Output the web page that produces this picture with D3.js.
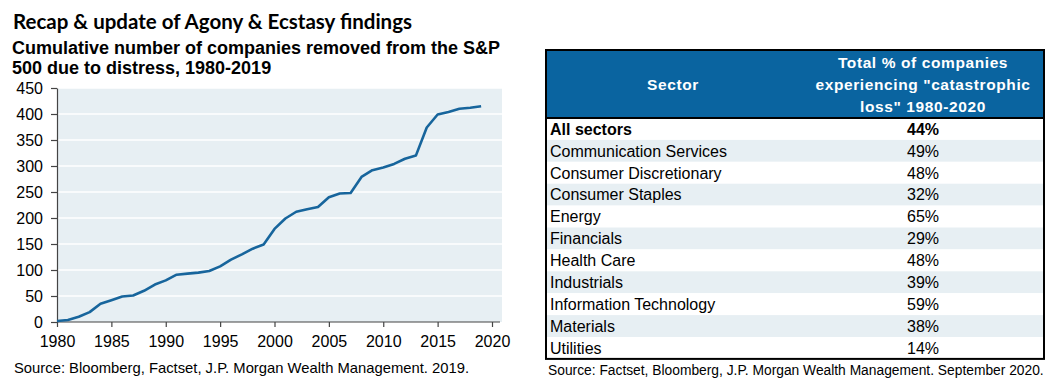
<!DOCTYPE html>
<html>
<head>
<meta charset="utf-8">
<script src="https://cdn.jsdelivr.net/npm/d3@7"></script>
<style>
  body { margin: 0; background: #fff; }
  svg { display: block; }
  text { font-family: "Liberation Sans", Arial, sans-serif; fill: #000; }
</style>
</head>
<body>
<script>
var years = [1980,1981,1982,1983,1984,1985,1986,1987,1988,1989,1990,1991,1992,1993,1994,1995,1996,1997,1998,1999,
             2000,2001,2002,2003,2004,2005,2006,2007,2008,2009,2010,2011,2012,2013,2014,2015,2016,2017,2018,2019];
var removed = [2,4,10,19,35,42,49,51,60,72,80,91,93,95,98,107,120,130,141,149,
               179,199,212,217,221,240,247,248,279,292,297,304,314,320,374,399,404,410,412,415];
var yTicks = [0,50,100,150,200,250,300,350,400,450];
var xTicks = [1980,1985,1990,1995,2000,2005,2010,2015,2020];

var sectors = ["All sectors","Communication Services","Consumer Discretionary","Consumer Staples","Energy",
               "Financials","Health Care","Industrials","Information Technology","Materials","Utilities"];
var lossPct = [44,49,48,32,65,29,48,39,59,38,14];
var headerLines = ["Total % of companies", "experiencing \"catastrophic", "loss\" 1980-2020"];

var width = 1057, height = 390;
var svg = d3.select("body").append("svg").attr("width", width).attr("height", height);

// titles
svg.append("text").attr("x", 13).attr("y", 29)
   .style("font-family", "Lato, Carlito, sans-serif").style("font-weight", "bold").style("font-size", "20.5px")
   .text("Recap & update of Agony & Ecstasy findings");
svg.append("text").attr("x", 12).attr("y", 54).style("font-weight", "bold").style("font-size", "18px")
   .text("Cumulative number of companies removed from the S&P");
svg.append("text").attr("x", 12).attr("y", 74).style("font-weight", "bold").style("font-size", "18px")
   .text("500 due to distress, 1980-2019");

// line chart
var x = d3.scaleLinear().domain([1980, 2020]).range([57, 492]);
var y = d3.scaleLinear().domain([0, 450]).range([322, 88]);

svg.append("rect").attr("x", 57).attr("y", y(450)).attr("width", 445).attr("height", y(0) - y(450))
   .attr("fill", "#e7eff3");

svg.selectAll(".grid").data(yTicks.slice(1)).enter().append("line")
   .attr("class", "grid")
   .attr("x1", 57).attr("x2", 502)
   .attr("y1", function(d) { return y(d); }).attr("y2", function(d) { return y(d); })
   .attr("stroke", "#fff").attr("stroke-width", 1.5);

var yAxis = svg.append("g").attr("transform", "translate(57,0)")
   .call(d3.axisLeft(y).tickValues(yTicks).tickSize(6).tickSizeOuter(0));
var xAxis = svg.append("g").attr("transform", "translate(0," + y(0) + ")")
   .call(d3.axisBottom(x).tickValues(xTicks).tickFormat(d3.format("d")).tickSize(5).tickSizeOuter(0));
xAxis.select(".domain").attr("d", "M57,0H500");

[yAxis, xAxis].forEach(function(a) {
  a.selectAll("path, line").attr("stroke", "#444").attr("stroke-width", 1.2);
  a.selectAll("text").style("font-family", "Liberation Sans, Arial, sans-serif")
   .style("font-size", "16px").attr("fill", "#111");
});
yAxis.selectAll("text").attr("x", -14).attr("dy", "0.36em");
xAxis.selectAll("text").attr("y", 12).attr("dy", "0.8em");

var line = d3.line()
  .x(function(d, i) { return x(years[i]); })
  .y(function(d) { return y(d); });

svg.append("path").datum(removed)
   .attr("d", line).attr("fill", "none")
   .attr("stroke", "#17659c").attr("stroke-width", 2.6).attr("stroke-linejoin", "round");

svg.append("text").attr("x", 14).attr("y", 373).style("font-size", "14.8px").attr("fill", "#111")
   .text("Source: Bloomberg, Factset, J.P. Morgan Wealth Management. 2019.");

// table
var tx0 = 546, tx1 = 1044, ty0 = 50, hy1 = 118, rowH = 21.9;
var col2 = 923;

svg.append("rect").attr("x", tx0).attr("y", ty0).attr("width", tx1 - tx0).attr("height", hy1 - ty0)
   .attr("fill", "#0a64a0");

var rows = svg.selectAll(".row").data(sectors).enter().append("g")
   .attr("class", "row")
   .attr("transform", function(d, i) { return "translate(0," + (hy1 + i * rowH) + ")"; });

rows.append("rect").attr("x", tx0).attr("width", tx1 - tx0).attr("height", rowH)
   .attr("fill", function(d, i) { return i % 2 === 1 ? "#e7eff3" : "#fff"; });

rows.append("text").attr("x", 550).attr("y", rowH / 2).attr("dy", "0.36em")
   .style("font-size", "16px")
   .style("font-weight", function(d, i) { return i === 0 ? "bold" : "normal"; })
   .text(function(d) { return d; });

rows.append("text").attr("x", col2).attr("y", rowH / 2).attr("dy", "0.36em")
   .attr("text-anchor", "middle").style("font-size", "16px")
   .style("font-weight", function(d, i) { return i === 0 ? "bold" : "normal"; })
   .text(function(d, i) { return lossPct[i] + "%"; });

svg.append("text").attr("x", 673).attr("y", 90).attr("text-anchor", "middle")
   .style("font-size", "15.5px").style("font-weight", "bold").style("fill", "#fff")
   .style("letter-spacing", "0.6px")
   .text("Sector");

svg.selectAll(".hdr").data(headerLines).enter().append("text")
   .attr("class", "hdr")
   .attr("x", col2).attr("y", function(d, i) { return 68 + i * 22; })
   .attr("text-anchor", "middle").style("font-size", "15.5px").style("font-weight", "bold")
   .style("fill", "#fff").style("letter-spacing", "0.6px")
   .text(function(d) { return d; });

var tyEnd = hy1 + sectors.length * rowH;
svg.append("line").attr("x1", tx0).attr("x2", tx1).attr("y1", hy1).attr("y2", hy1)
   .attr("stroke", "#000").attr("stroke-width", 2);
svg.append("rect").attr("x", tx0).attr("y", ty0).attr("width", tx1 - tx0).attr("height", tyEnd - ty0)
   .attr("fill", "none").attr("stroke", "#000").attr("stroke-width", 2);

svg.append("text").attr("x", 548).attr("y", 375).style("font-size", "13.8px").attr("fill", "#111")
   .text("Source: Factset, Bloomberg, J.P. Morgan Wealth Management. September 2020.");
</script>
</body>
</html>
